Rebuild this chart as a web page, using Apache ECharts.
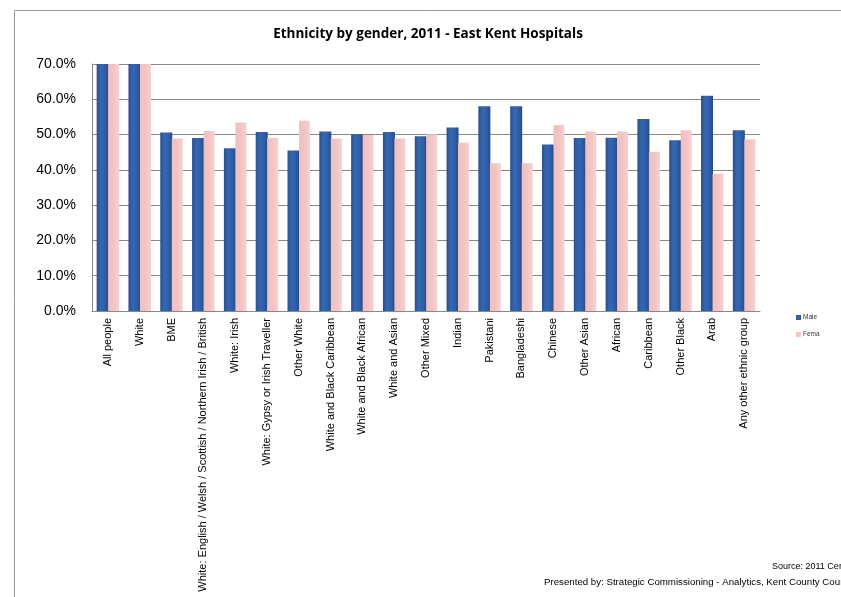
<!DOCTYPE html>
<html><head><meta charset="utf-8">
<script src="https://cdn.jsdelivr.net/npm/echarts@6/dist/echarts.min.js"></script>
<style>html,body{margin:0;padding:0;background:#fff}#c{width:841px;height:597px}</style>
</head><body><div id="c"></div>
<script>
var categories = ["All people","White","BME","White: English / Welsh / Scottish / Northern Irish / British","White: Irish","White: Gypsy or Irish Traveller","Other White","White and Black Caribbean","White and Black African","White and Asian","Other Mixed","Indian","Pakistani","Bangladeshi","Chinese","Other Asian","African","Caribbean","Other Black","Arab","Any other ethnic group"];
var male =   [1.0, 1.0, 0.506, 0.490, 0.461, 0.507, 0.455, 0.509, 0.501, 0.507, 0.495, 0.520, 0.580, 0.580, 0.472, 0.490, 0.491, 0.544, 0.484, 0.610, 0.512];
var female = [1.0, 1.0, 0.489, 0.510, 0.534, 0.490, 0.539, 0.489, 0.499, 0.489, 0.501, 0.477, 0.419, 0.419, 0.527, 0.509, 0.509, 0.451, 0.512, 0.389, 0.487];
var yTicks = [0, 0.1, 0.2, 0.3, 0.4, 0.5, 0.6, 0.7];
var seriesNames = ["Male", "Female"];

var chart = echarts.init(document.getElementById('c'), null, {renderer:'canvas'});
var blueGrad = new echarts.graphic.LinearGradient(0,0,1,0,[
  {offset:0,color:'#2b4f8f'},{offset:0.35,color:'#3468b3'},{offset:0.7,color:'#2f5ea6'},{offset:1,color:'#284a86'}]);
var pinkGrad = new echarts.graphic.LinearGradient(0,0,1,0,[
  {offset:0,color:'#f0c0c0'},{offset:0.5,color:'#f3c4c4'},{offset:1,color:'#f6d2d2'}]);
chart.setOption({
  animation:false,
  backgroundColor:'#fff',
  grid:{left:92,right:81,top:64,bottom:286,containLabel:false},
  legend:{orient:'vertical',left:791,top:309,itemWidth:5,itemHeight:5,itemGap:10,
    data:seriesNames,textStyle:{fontSize:6.5,fontFamily:'Liberation Sans',color:'#333',padding:[0,0,0,-3]},
    icon:'rect',formatter:function(n){return n==='Female'?'Fema':n;}},
  xAxis:{type:'category',data:categories,
    axisLine:{lineStyle:{color:'#888',width:1}},axisTick:{show:false},
    axisLabel:{rotate:90,interval:0,fontSize:11,fontFamily:'Liberation Sans',color:'#000',margin:7}},
  yAxis:{type:'value',min:0,max:0.7,interval:0.1,
    axisLine:{show:true,lineStyle:{color:'#888'}},axisTick:{show:false},
    splitLine:{lineStyle:{color:'#888',width:1}},
    axisLabel:{fontSize:14,fontFamily:'Liberation Sans',color:'#000',margin:16,
      formatter:function(v){return (v*100).toFixed(1)+'%';}}},
  series:[
    {name:'Male',type:'bar',data:male,barWidth:12,barGap:'-4%',clip:true,itemStyle:{color:blueGrad}},
    {name:'Female',type:'bar',data:female,barWidth:11,clip:true,itemStyle:{color:pinkGrad}}
  ],
  graphic:[
    {type:'line',shape:{x1:14.5,y1:10.5,x2:841,y2:10.5},style:{stroke:'#999',lineWidth:1}},
    {type:'line',shape:{x1:14.5,y1:10.5,x2:14.5,y2:597},style:{stroke:'#999',lineWidth:1}},
    {type:'text',x:428,y:34,style:{text:'Ethnicity by gender, 2011 - East Kent Hospitals',align:'center',verticalAlign:'middle',fontSize:13.5,fontWeight:'bold',fontFamily:'Open Sans',fill:'#000'}},
    {type:'text',left:772,top:562,style:{text:'Source: 2011 Census',fontSize:9,fontFamily:'Liberation Sans Narrow, Liberation Sans',fill:'#000'}},
    {type:'text',left:544,top:577,style:{text:'Presented by: Strategic Commissioning - Analytics, Kent County Council',fontSize:9.7,fontFamily:'Liberation Sans',fill:'#000'}}
  ]
});
</script></body></html>
